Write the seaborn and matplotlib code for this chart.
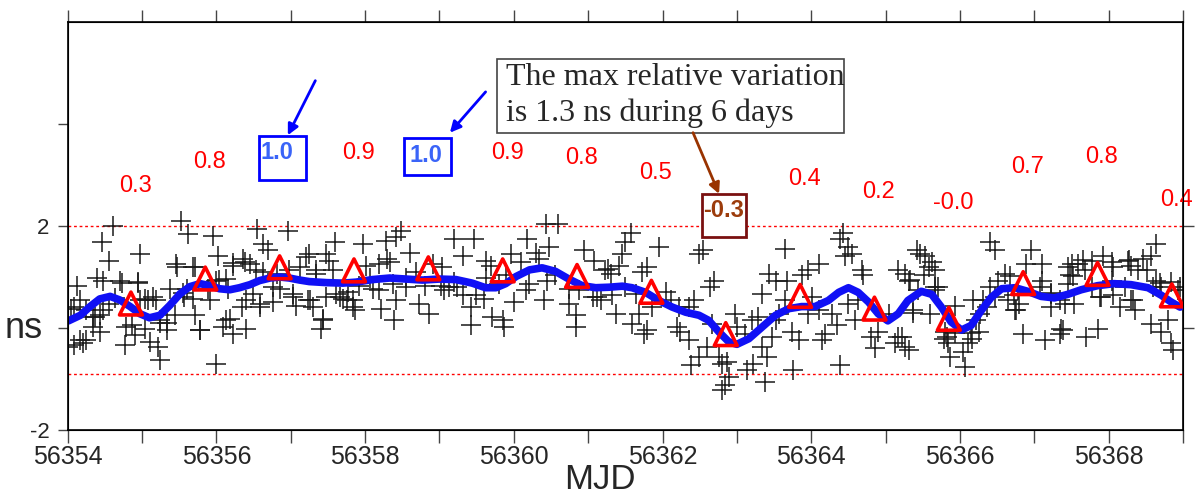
import matplotlib
matplotlib.use("Agg")
import matplotlib.pyplot as plt
import seaborn as sns
from matplotlib.patches import Rectangle
from matplotlib.ticker import MultipleLocator, StrMethodFormatter

# raw samples (MJD, ns)
cross_mjd = [
    56354.61, 56354.46, 56354.55, 56354.97, 56355.53, 56355.62, 56355.46, 56355.95, 56356.02, 56356.54,
    56356.96, 56356.63, 56356.69, 56354.39, 56354.12, 56354.48, 56354.70, 56354.95, 56354.05, 56354.25,
    56354.37, 56354.34, 56354.43, 56354.08, 56354.21, 56354.25, 56354.77, 56354.90, 56354.86, 56355.10,
    56355.22, 56355.24, 56355.24, 56355.33, 56355.19, 56355.04, 56355.15, 56355.37, 56355.44, 56355.57,
    56355.60, 56355.71, 56355.71, 56355.78, 56356.00, 56356.09, 56356.18, 56356.22, 56356.40, 56356.00,
    56356.13, 56356.22, 56356.36, 56356.45, 56356.34, 56356.40, 56356.58, 56356.49, 56356.76, 56356.85,
    56357.03, 56357.12, 56357.25, 56357.34, 56357.23, 56357.30, 56357.43, 56357.41, 56357.48, 56357.59,
    56357.52, 56357.61, 56357.57, 56357.07, 56355.91, 56355.69, 56355.89, 56356.16, 56354.01, 56354.17,
    56354.97, 56354.55, 56354.43, 56354.79, 56355.04, 56356.81, 56356.63, 56356.98,
    56354.08, 56354.34, 56354.48, 56354.64, 56354.73, 56354.95, 56355.08, 56355.24, 56355.33, 56355.47,
    56355.69, 56355.55, 56356.04, 56356.22, 56356.38, 56356.53, 56356.58, 56356.76, 56357.03, 56357.21,
    56357.34, 56357.48, 56357.66, 56357.75, 56357.84, 56357.43, 56356.13, 56355.78, 56357.26, 56354.17,
    # day 56358 - 56361
    56358.48, 56358.42, 56358.28, 56357.97, 56358.60, 56358.30, 56358.01, 56358.19, 56358.33, 56359.20,
    56359.47, 56359.31, 56359.62, 56359.69, 56360.18, 56360.30, 56360.47, 56360.43, 56360.59, 56359.96,
    56360.09, 56360.34, 56360.94, 56361.08, 56361.26, 56361.30, 56357.77, 56357.83, 56357.86, 56357.70,
    56358.10, 56358.21, 56358.39, 56358.42, 56358.37, 56358.55, 56358.73, 56358.86, 56358.80, 56359.02,
    56359.06, 56359.20, 56359.04, 56358.91, 56359.42, 56359.42, 56359.49, 56359.60, 56359.71, 56359.85,
    56359.87, 56360.00, 56360.16, 56360.21, 56360.41, 56360.45, 56360.56, 56360.74, 56360.83, 56360.83,
    56360.88, 56361.06, 56361.17, 56361.32, 56361.37, 56361.23, 56361.41, 56358.68, 56358.55, 56358.06,
    56359.62, 56359.80, 56359.89, 56357.92, 56358.19, 56359.24, 56359.13, 56359.31, 56360.74, 56361.12,
    # day 56361 - 56365
    56361.57, 56361.50, 56361.46, 56361.95, 56361.79, 56361.73, 56362.55, 56362.49, 56362.69, 56362.64,
    56363.65, 56364.10, 56363.96, 56363.87, 56363.43, 56363.52, 56363.67, 56364.43, 56364.39, 56364.50,
    56364.55, 56364.46, 56364.68, 56364.70, 56365.17, 56361.50, 56361.64, 56361.68, 56361.59, 56361.79,
    56361.75, 56362.04, 56362.11, 56362.20, 56362.24, 56362.35, 56362.35, 56362.42, 56362.38, 56362.60,
    56362.67, 56362.76, 56362.80, 56362.87, 56362.89, 56362.80, 56362.84, 56362.98, 56363.00, 56363.11,
    56363.20, 56363.22, 56363.14, 56363.38, 56363.40, 56363.34, 56363.47, 56363.52, 56363.56, 56363.76,
    56363.83, 56363.74, 56363.96, 56364.01, 56364.14, 56364.19, 56364.39, 56364.28, 56364.34, 56364.59,
    56364.81, 56364.86, 56364.90, 56365.13, 56365.17, 56365.04, 56364.63, 56364.50, 56363.34, 56363.65,
    56364.10, 56363.29, 56362.49, 56361.86, 56362.22,
    # day 56365 - 56369
    56365.42, 56365.53, 56365.62, 56365.66, 56365.51, 56365.31, 56365.26, 56365.71, 56365.66, 56365.37,
    56365.22, 56365.26, 56365.31, 56365.60, 56365.93, 56365.80, 56365.78, 56365.84, 56365.87, 56366.07,
    56366.04, 56366.11, 56366.16, 56366.25, 56366.18, 56366.27, 56366.31, 56366.40, 56366.47, 56366.40,
    56366.51, 56366.60, 56366.72, 56366.74, 56366.85, 56366.89, 56366.96, 56367.10, 56367.10, 56367.14,
    56367.23, 56367.23, 56367.36, 56367.34, 56367.50, 56367.48, 56367.45, 56367.59, 56367.68, 56367.54,
    56367.41, 56367.70, 56367.86, 56367.77, 56367.92, 56368.04, 56367.90, 56368.06, 56368.26, 56368.30,
    56368.39, 56368.46, 56368.57, 56368.64, 56368.30, 56368.35, 56368.57, 56368.71, 56368.64, 56368.71,
    56368.84, 56368.80, 56368.84, 56368.86, 56368.93, 56368.04, 56368.22, 56367.77, 56366.78, 56366.65,
    56365.44,
    56365.33, 56365.46, 56365.59, 56365.66, 56365.37, 56365.82, 56365.93, 56366.15, 56366.22, 56366.36,
    56366.47, 56366.67, 56366.80, 56366.76, 56367.07, 56367.23, 56367.34, 56367.45, 56367.52, 56367.66,
    56367.88, 56368.06, 56368.28, 56368.33, 56368.51, 56368.60, 56368.69, 56368.96, 56367.39, 56368.15,
]
cross_ns = [
    2.00, 1.68, 1.32, 1.46, 2.10, 1.84, 1.26, 1.81, 1.42, 1.94,
    1.91, 1.65, 1.52, 0.99, 0.83, 0.93, 0.93, 0.90, 0.38, 0.35,
    0.22, 0.02, -0.08, -0.34, -0.30, -0.24, -0.34, -0.14, 0.05, -0.27,
    -0.37, -0.63, 0.09, 0.09, 0.54, 0.57, 0.61, 0.77, 0.25, 0.61,
    0.77, 1.19, 0.25, -0.04, -0.70, 0.02, 0.18, -0.11, -0.01, 0.93,
    0.96, 1.22, 1.35, 1.26, 0.41, 0.54, 0.41, 0.67, 0.51, 0.77,
    0.67, 1.19, 1.45, 1.06, 0.54, 0.41, 0.18, -0.01, 1.45, 1.68,
    1.32, 0.67, 1.13, 0.44, 0.54, 0.57, 0.77, 0.77, -0.37, 0.54,
    0.54, 0.48, 0.25, 0.02, -0.01, 1.06, 1.09, 1.13,
    0.42, 0.22, 0.35, 0.58, 0.88, 0.88, 0.55, 0.16, -0.04, 1.20,
    1.20, 0.68, 0.94, 1.27, 1.30, 1.14, 0.48, 0.81, 0.61, 1.40,
    1.14, 0.61, 0.61, 0.55, 0.42, 0.16, 0.16, -0.04, 0.55, -0.23,
    1.91, 1.78, 1.71, 1.65, 1.48, 1.35, 1.22, 1.26, 1.29, 1.74,
    1.74, 1.42, 1.32, 1.22, 1.74, 1.48, 1.58, 2.04, 2.04, 1.45,
    1.29, 1.35, 1.52, 1.32, 1.16, 1.06, 0.70, 0.54, 0.35, 0.57,
    0.77, 0.38, 0.15, 0.54, 0.87, 0.80, 0.48, 0.28, 0.83, 0.83,
    0.74, 0.90, 1.19, 1.26, 0.05, 0.41, 0.64, 0.57, 0.22, 0.15,
    0.02, 0.51, 0.74, 0.87, 0.54, 0.93, 1.03, 0.48, 0.25, 0.02,
    0.74, 0.61, 0.54, 0.64, 0.28, 1.13, 1.22, 1.09, 0.99, 0.99,
    0.99, 0.87, 1.03, 0.83, 0.74, 0.80, 0.80, 0.64, 0.77, 0.61,
    1.87, 1.68, 1.45, 1.58, 1.19, 1.09, 1.52, 1.45, 0.93, 0.80,
    1.55, 1.26, 1.13, 1.03, 1.06, 0.93, 0.93, 1.87, 1.74, 1.58,
    1.45, 1.42, 1.13, 1.03, 1.13, 0.80, 0.67, 0.28, 0.08, -0.04,
    -0.11, 0.70, 0.54, 0.02, -0.08, -0.24, 0.41, 0.54, -0.73, -0.37,
    0.08, -0.56, -0.70, -0.66, -0.96, -1.22, -1.12, 0.28, 0.02, -0.11,
    0.15, -0.70, -0.83, -1.05, -0.56, -0.37, -0.17, 0.15, 0.28, -0.83,
    -0.24, -0.08, 0.28, 0.61, -0.24, -0.11, -0.73, 0.28, 0.05, 0.15,
    -0.17, -0.40, -0.08, -0.30, -0.17, 0.28, 0.54, 0.48, 0.67, 0.54,
    0.35, 0.22, -0.56, 0.41, 0.41,
    1.52, 1.42, 1.29, 1.13, 1.03, 0.93, 1.06, 0.80, 0.74, 0.35,
    -0.17, -0.37, -0.43, 0.28, 0.44, -0.08, -0.21, -0.30, -0.56, -0.76,
    -0.47, -0.30, -0.21, -0.08, 0.54, 0.28, 0.54, 1.68, 1.52, 0.80,
    0.93, 1.06, 0.64, 0.35, -0.11, 1.26, 1.52, 1.26, 0.93, -0.24,
    0.67, 0.41, -0.01, -0.11, 1.26, 1.03, 0.87, 1.26, 1.13, 0.48,
    0.48, -0.17, -0.01, 1.32, 1.42, 1.29, 0.61, 0.64, 1.32, 1.22,
    1.13, 1.35, 1.42, 1.65, 0.54, 0.35, 0.08, -0.08, 0.93, 0.80,
    0.90, 0.15, -0.30, -0.43, 0.74, 0.93, 0.80, 0.80, 0.74, 0.54,
    0.74,
    0.94, 1.46, 1.20, 0.81, 0.29, -0.17, -0.10, -0.10, 0.16, 0.42,
    0.61, 1.01, 0.48, 0.35, 0.81, 0.68, 0.55, 1.20, 1.01, 1.33,
    0.61, 1.20, 1.33, 0.55, 1.14, 0.81, 0.88, 0.81, -0.04, 0.42,
]

# smoothed curve
fit_mjd = [
    56354.01, 56354.17, 56354.30, 56354.43, 56354.57, 56354.70, 56354.84, 56354.97, 56355.10, 56355.24,
    56355.37, 56355.51, 56355.64, 56355.78, 56355.91, 56356.04, 56356.18, 56356.31, 56356.45, 56356.58,
    56356.72, 56356.85, 56356.98, 56357.12, 56357.25, 56357.48, 56357.70, 56357.88, 56358.10, 56358.33,
    56358.55, 56358.77, 56359.00, 56359.22, 56359.44, 56359.62, 56359.76, 56359.89, 56360.03, 56360.21,
    56360.38, 56360.56, 56360.74, 56360.92, 56361.10, 56361.28, 56361.46, 56361.59, 56361.77, 56361.95,
    56362.13, 56362.31, 56362.49, 56362.62, 56362.76, 56362.89, 56363.00, 56363.16, 56363.34, 56363.52,
    56363.70, 56363.87, 56364.05, 56364.23, 56364.37, 56364.50, 56364.63, 56364.77, 56364.90, 56365.03,
    56365.17, 56365.30, 56365.48, 56365.62, 56365.75, 56365.88, 56366.02, 56366.15, 56366.29, 56366.42,
    56366.56, 56366.74, 56366.91, 56367.09, 56367.27, 56367.45, 56367.63, 56367.85, 56368.07, 56368.30,
    56368.53, 56368.71, 56368.84, 56368.96,
]
fit_ns = [
    0.14, 0.25, 0.42, 0.57, 0.62, 0.55, 0.42, 0.28, 0.20, 0.25,
    0.44, 0.67, 0.81, 0.87, 0.83, 0.77, 0.75, 0.79, 0.85, 0.93,
    0.98, 1.00, 0.98, 0.94, 0.91, 0.89, 0.88, 0.90, 0.95, 0.98,
    0.96, 0.94, 0.96, 0.95, 0.88, 0.79, 0.79, 0.87, 1.01, 1.14,
    1.18, 1.11, 0.96, 0.83, 0.79, 0.80, 0.82, 0.79, 0.70, 0.54,
    0.41, 0.31, 0.25, 0.15, -0.08, -0.27, -0.32, -0.21, 0.02, 0.25,
    0.38, 0.42, 0.42, 0.54, 0.70, 0.79, 0.70, 0.51, 0.28, 0.14,
    0.28, 0.54, 0.72, 0.66, 0.41, 0.12, -0.04, 0.05, 0.35, 0.60,
    0.77, 0.79, 0.72, 0.62, 0.59, 0.66, 0.75, 0.83, 0.87, 0.85,
    0.79, 0.64, 0.51, 0.41,
]

# daily points and their labels
day_mjd = [56354.85, 56355.85, 56356.85, 56357.85, 56358.85, 56359.85, 56360.85, 56361.85,
           56362.85, 56363.85, 56364.85, 56365.85, 56366.85, 56367.85, 56368.85]
day_ns = [0.48, 0.97, 1.19, 1.13, 1.17, 1.13, 1.02, 0.71, -0.12, 0.63, 0.38, 0.18, 0.88, 1.06, 0.64]
day_text = ["0.3", "0.8", "1.0", "0.9", "1.0", "0.9", "0.8", "0.5", "-0.3", "0.4", "0.2", "-0.0",
            "0.7", "0.8", "0.4"]
label_ns = [2.78, 3.25, 3.44, 3.43, 3.39, 3.43, 3.33, 3.04, 2.31, 2.92, 2.67, 2.45, 3.16, 3.35, 2.51]

limit_hi = 2.0
limit_lo = -0.91

sns.set_style("ticks")
plt.rcParams['font.family'] = ['Liberation Sans', 'DejaVu Sans']
plt.rcParams['axes.edgecolor'] = 'black'

fig, ax = plt.subplots(figsize=(12.03, 4.97), dpi=100)
fig.subplots_adjust(left=0.0563, right=0.9834, top=0.9557, bottom=0.1348)

ax.axhline(limit_hi, color='red', lw=1, ls=(0, (2, 2)), zorder=1)
ax.axhline(limit_lo, color='red', lw=1, ls=(0, (2, 2)), zorder=1)

sns.scatterplot(x=cross_mjd, y=cross_ns, marker='+', s=210, color='#1a1a1a',
                linewidth=1.1, ax=ax, zorder=2)
sns.lineplot(x=fit_mjd, y=fit_ns, color='#1010f5', lw=5.5, ax=ax, zorder=3)
sns.scatterplot(x=day_mjd, y=day_ns, marker='^', s=270, color='red', facecolor='none',
                edgecolor='red', linewidth=2.6, ax=ax, zorder=4)

boxed = {2: 'blue', 4: 'blue', 8: 'brown'}
for i, t in enumerate(day_text):
    if i in boxed:
        c = '#3a64f8' if boxed[i] == 'blue' else '#9c3c0c'
        ax.text(day_mjd[i] - 0.03, label_ns[i], t, color=c, fontsize=17, fontweight='bold',
                ha='center', va='center', zorder=6)
    else:
        ax.text(day_mjd[i] + 0.06, label_ns[i], t, color='red', fontsize=17,
                ha='center', va='center', zorder=6, clip_on=False)

# boxes round the highlighted values
ax.add_patch(Rectangle((56356.57, 2.90), 0.63, 0.87, fc='white', ec='#0000ff', lw=2, zorder=5))
ax.add_patch(Rectangle((56358.52, 3.00), 0.64, 0.73, fc='white', ec='#0000ff', lw=2, zorder=5))
ax.add_patch(Rectangle((56362.53, 1.79), 0.59, 0.84, fc='white', ec='#7a1010', lw=2, zorder=5))

# comment box
ax.add_patch(Rectangle((56359.77, 3.83), 4.67, 1.44, fc='white', ec='#444444', lw=1.2, zorder=5))
ax.text(56359.89, 4.56, "The max relative variation\nis 1.3 ns during 6 days",
        family=['Liberation Serif', 'DejaVu Serif'], fontsize=23, ha='left', va='center',
        linespacing=1.25, zorder=6)

arrow_blue = dict(arrowstyle='-|>', color='#0000ff', lw=2, mutation_scale=16, shrinkA=0, shrinkB=0)
ax.annotate('', xy=(56356.96, 3.78), xytext=(56357.33, 4.85), arrowprops=arrow_blue, zorder=6)
ax.annotate('', xy=(56359.14, 3.83), xytext=(56359.62, 4.63), arrowprops=arrow_blue, zorder=6)
ax.annotate('', xy=(56362.76, 2.63), xytext=(56362.41, 3.83),
            arrowprops=dict(arrowstyle='-|>', color='#993300', lw=2, mutation_scale=16,
                            shrinkA=0, shrinkB=0), zorder=6)

ax.set_xlim(56354, 56369)
ax.set_ylim(-2, 6)
ax.xaxis.set_major_locator(MultipleLocator(2))
ax.xaxis.set_minor_locator(MultipleLocator(1))
ax.xaxis.set_major_formatter(StrMethodFormatter('{x:.0f}'))
ax.set_yticks([-2, 0, 2, 4])
ax.set_yticklabels(['-2', '', '2', ''])

ax.tick_params(axis='x', which='both', top=True, direction='out', length=9, width=1,
               color='#444444', labelsize=18, pad=2)
ax.tick_params(axis='y', which='both', direction='out', length=7, width=1,
               color='#444444', labelsize=16, pad=6)
for s in ax.spines.values():
    s.set_linewidth(1.2)
    s.set_color('black')

ax2 = ax.twinx()
ax2.set_ylim(-2, 6)
ax2.set_yticks([0, 2])
ax2.set_yticklabels([])
ax2.tick_params(axis='y', direction='out', length=8, width=1, color='#444444')

ax.set_ylabel('ns', rotation=0, fontsize=26, ha='right', va='center')
ax.yaxis.set_label_coords(-0.022, 0.25)
ax.set_xlabel('MJD', fontsize=25)
ax.xaxis.set_label_coords(0.477, -0.080)

plt.savefig("out.png", dpi=100)
